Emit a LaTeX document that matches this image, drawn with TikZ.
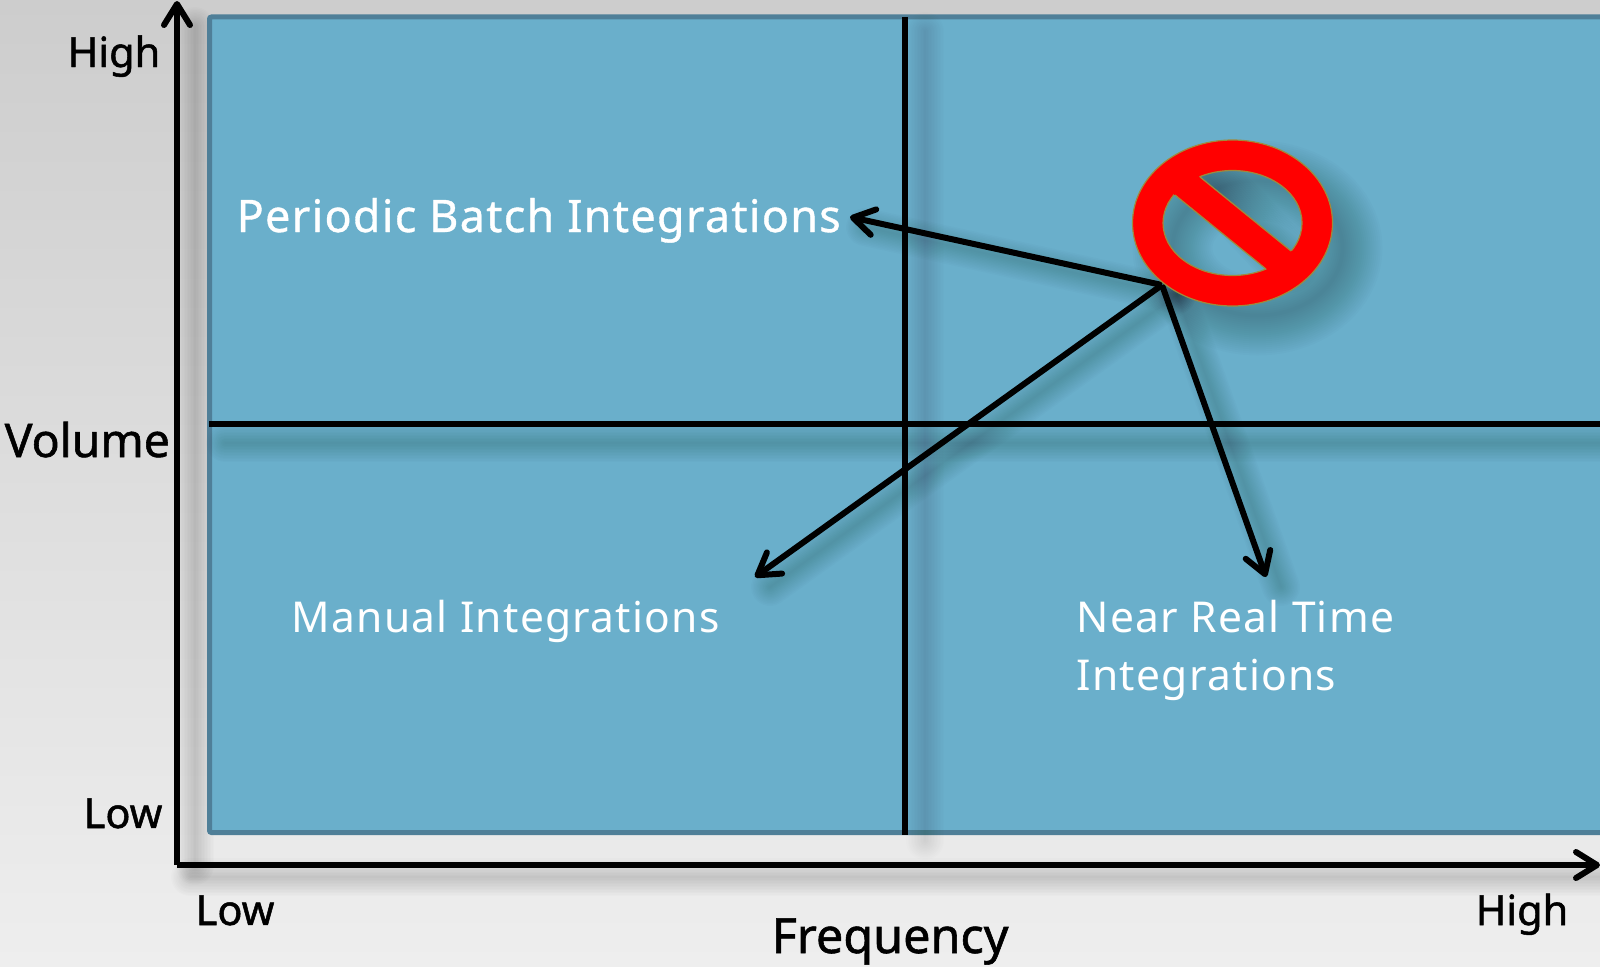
\documentclass[tikz,border=0pt]{standalone}
\usepackage{fontspec}
\setmainfont{Noto Sans}
\newfontfamily\cellfont[LetterSpace=3]{Noto Sans}
\newfontfamily\batchfont[LetterSpace=3,FakeBold=0.8]{Noto Sans}
\newfontfamily\axisfont[FakeBold=1.2]{Noto Sans}
\usetikzlibrary{arrows.meta}
\definecolor{boxblue}{HTML}{6AAFCB}
\definecolor{boxedge}{HTML}{4F7F98}
\definecolor{backtop}{HTML}{CDCDCD}
\definecolor{backbot}{HTML}{EEEEEE}
\definecolor{signrim}{HTML}{A08A3C}
\tikzstyle{axis}=[draw=black, line width=0.06cm, -{Straight Barb[length=2.1mm, width=2.6mm, round]}]
\tikzstyle{grid}=[draw=black, line width=0.055cm]
\tikzstyle{pointer}=[draw=black, line width=0.06cm, -{Straight Barb[length=2.1mm, width=2.6mm, round]}]
\tikzstyle{ticktext}=[font=\axisfont\fontsize{11.8}{14}\selectfont, text=black, inner sep=0pt]
\tikzstyle{volumetext}=[font=\axisfont\fontsize{13.2}{16}\selectfont, text=black, inner sep=0pt]
\tikzstyle{axistext}=[font=\axisfont\fontsize{13.8}{16}\selectfont, text=black, inner sep=0pt]
\tikzstyle{cell}=[font=\cellfont\fontsize{12.1}{16}\selectfont, text=white, inner sep=0pt]
\tikzstyle{batchcell}=[font=\batchfont\fontsize{12.75}{16}\selectfont, text=white, inner sep=0pt]
% soft shadow of a stroke, built up from wide faint strokes
\newcommand{\softline}[3]{
	\foreach \w in {0.02,0.05,...,0.38} {
		\draw [black, opacity=#3, line width=\w cm, line cap=round] #1 -- #2;
	}
}
\begin{document}
\begin{tikzpicture}
	\useasboundingbox (0, 0) rectangle (16, 9.66);
	\clip (0, 0) rectangle (16, 9.66);
	\shade [top color=backtop, bottom color=backbot] (0, 0) rectangle (16, 9.66);
	\begin{scope}
		\softline{(1.90,0.89)}{(16,0.89)}{0.010}
		\softline{(1.95,1.00)}{(1.95,9.40)}{0.012}
	\end{scope}
	\begin{scope}
		\fill [boxblue, draw=boxedge, line width=0.05cm, rounded corners=0.02cm] (2.095, 1.335) rectangle (16.4, 9.49);
	\end{scope}
	\begin{scope}
		\coordinate (hub) at (11.62, 6.81);
		\coordinate (gridtop) at (9.05, 9.49);
		\coordinate (gridbot) at (9.05, 1.31);
		\coordinate (gridleft) at (2.09, 5.42);
		\coordinate (gridright) at (16, 5.42);
		\coordinate (batch) at (8.50, 7.49);
		\coordinate (manual) at (7.55, 3.89);
		\coordinate (nearreal) at (12.66, 3.89);
		\coordinate (origin) at (1.77, 1.01);
		\coordinate (ytop) at (1.77, 9.65);
		\coordinate (xend) at (16, 1.01);
		\coordinate (sign) at (12.325, 7.43);
	\end{scope}
	% shadows
	\begin{scope}
		\softline{(9.25,9.35)}{(9.25,1.25)}{0.009}
		\softline{(2.25,5.23)}{(16,5.23)}{0.011}
		\softline{([shift={(0.15,-0.10)}]hub)}{([shift={(0.15,-0.10)}]batch)}{0.011}
		\softline{([shift={(0.15,-0.10)}]hub)}{([shift={(0.15,-0.10)}]manual)}{0.011}
		\softline{([shift={(0.15,-0.10)}]hub)}{([shift={(0.15,-0.10)}]nearreal)}{0.011}
		\foreach \w in {0.04,0.08,...,0.84} {
			\draw [black, opacity=0.011, line width=\w cm] ([shift={(0.25,-0.25)}]sign) ellipse (0.85 and 0.675);
		}
		\foreach \w in {0.04,0.08,...,0.64} {
			\draw [black, opacity=0.010, line width=\w cm, line cap=round] (12.03, 7.93) -- (12.89, 7.03);
		}
	\end{scope}
	\begin{scope}
		\draw [grid] (gridtop) -- (gridbot);
		\draw [grid] (gridleft) -- (gridright);
		\draw [axis] (origin) -- (ytop);
		\draw [axis] (origin) -- (xend);
		\draw [pointer] (hub) -- (batch);
		\draw [pointer] (hub) -- (manual);
		\draw [pointer] (hub) -- (nearreal);
	\end{scope}
	\begin{scope}
		\fill [red, draw=signrim, line width=0.012cm, even odd rule] (sign) ellipse (1.00 and 0.83) (sign) ellipse (0.695 and 0.525);
		\fill [red] (11.96, 7.92) -- (11.71, 7.74) -- (12.70, 6.94) -- (12.95, 7.12) -- cycle;
		\draw [signrim, line width=0.012cm] (12.00, 7.89) -- (12.91, 7.15);
		\draw [signrim, line width=0.012cm] (11.75, 7.71) -- (12.66, 6.97);
	\end{scope}
	\begin{scope}
		\node (yhigh) at (0.67, 8.99)[ticktext, anchor=base west] {High};
		\node (ylow) at (0.83, 1.38)[ticktext, anchor=base west] {Low};
		\node (xlow) at (1.95, 0.41)[ticktext, anchor=base west] {Low};
		\node (xhigh) at (14.75, 0.41)[ticktext, anchor=base west] {High};
		\node (volume) at (0.04, 5.09)[volumetext, anchor=base west] {Volume};
		\node (frequency) at (7.71, 0.13)[axistext, anchor=base west] {Frequency};
		\node (batchtext) at (2.36, 7.34)[batchcell, anchor=base west] {Periodic Batch Integrations};
		\node (manualtext) at (2.91, 3.34)[cell, anchor=base west] {Manual Integrations};
		\node (nearrealtext) at (10.76, 3.34)[cell, anchor=base west] {Near Real Time};
		\node (integrationstext) at (10.76, 2.76)[cell, anchor=base west] {Integrations};
	\end{scope}
\end{tikzpicture}
\end{document}
